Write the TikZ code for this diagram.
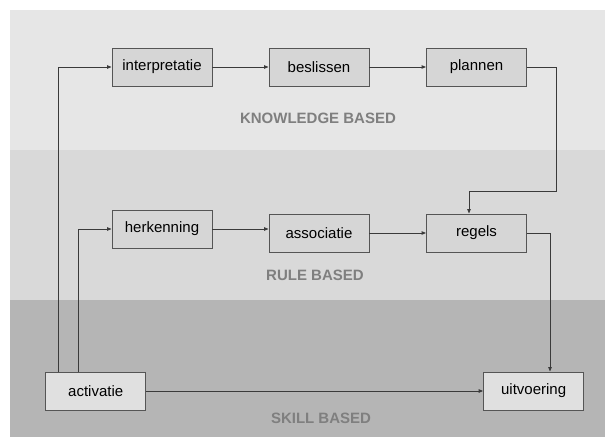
\documentclass[tikz,border=0pt]{standalone}
\usepackage{fontspec}
\setmainfont{Liberation Sans}
\usetikzlibrary{positioning,arrows.meta,calc}
\definecolor{knowband}{HTML}{E6E6E6}
\definecolor{ruleband}{HTML}{D9D9D9}
\definecolor{skillband}{HTML}{B5B5B5}
\definecolor{boxfill}{HTML}{D6D6D6}
\definecolor{boxlow}{HTML}{E0E0E0}
\definecolor{edge}{HTML}{555555}
\definecolor{wirecol}{HTML}{3A3A3A}
\definecolor{caption}{HTML}{7F7F7F}

\begin{document}
\begin{tikzpicture}[x=1pt,y=-1pt,
  stage/.style={draw=edge,fill=boxfill,line width=.9pt,minimum width=100pt,minimum height=38pt,
    inner sep=0pt,font=\fontsize{15}{17}\selectfont,text=black},
  level/.style={text=caption,font=\fontsize{15}{17}\selectfont\bfseries},
  link/.style={draw=wirecol,line width=.9pt,-{Triangle[length=4.5pt,width=3.5pt]}}]
  \useasboundingbox (0,0) rectangle (605,437);
  \fill[white] (0,0) rectangle (605,437);
  \fill[knowband] (10,10) rectangle (605,150);
  \fill[ruleband] (10,150) rectangle (605,300);
  \fill[skillband] (10,300) rectangle (605,437);
  % knowledge based
  \node[stage] (interp) at (162,67){interpretatie};
  \node[stage] (besl) at (319,67){beslissen};
  \node[stage] (plan) at (476.5,67){plannen};
  \node[level] (know) at (318,118){KNOWLEDGE BASED};
  % rule based
  \node[stage] (herk) at (162,229){herkenning};
  \node[stage] (assoc) at (319,233){associatie};
  \node[stage] (regels) at (476.5,233){regels};
  \node[level] (rule) at (315,275){RULE BASED};
  % skill based
  \node[stage,fill=boxlow] (activ) at (95.7,391){activatie};
  \node[stage,fill=boxlow] (uitv) at (533.6,391){uitvoering};
  \node[level] (skill) at (321,418){SKILL BASED};
  \coordinate (bend) at (556,191);
  \draw[link] ([xshift=13.5pt]activ.north west) |- (interp.west);
  \draw[link] ([xshift=33.5pt]activ.north west) |- (herk.west);
  \draw[link] (interp) -- (besl);
  \draw[link] (besl) -- (plan);
  \draw[link] (herk.east) -- (herk.east -| assoc.west);
  \draw[link] (assoc) -- (regels);
  \draw[link] (plan.east) -| (bend) -| ([xshift=-7.5pt]regels.north);
  \draw[link] (regels.east) -| ([xshift=16.4pt]uitv.north);
  \draw[link] (activ) -- (uitv);
\end{tikzpicture}
\end{document}
